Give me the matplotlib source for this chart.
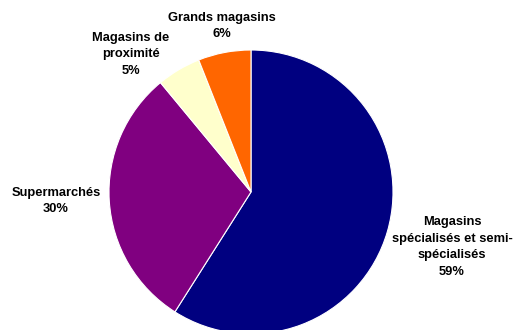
import matplotlib
matplotlib.use("Agg")
import matplotlib.pyplot as plt

labels = ["Magasins\nspécialisés et semi-\nspécialisés", "Supermarchés", "Magasins de\nproximité", "Grands magasins"]
values = [59, 30, 5, 6]
colors = ["#000080", "#800080", "#FFFFCC", "#FF6600"]
# label positions (pixel coords, y from top)
label_pos = [(452, 247), (56, 201), (131, 54), (222, 26)]

W, H = 519, 330
fig = plt.figure(figsize=(W/100, H/100), dpi=100)
ax = fig.add_axes([0, 0, 1, 1])

cx, cy, r = 251, 192, 142
ax.pie(values, colors=colors, startangle=90, counterclock=False,
       center=(cx, H - cy), radius=r, frame=True,
       wedgeprops=dict(edgecolor="white", linewidth=0.8))
ax.set_xlim(0, W)
ax.set_ylim(0, H)
ax.set_aspect("equal")
ax.axis("off")

for lab, v, (x, y) in zip(labels, values, label_pos):
    ax.text(x, H - y, f"{lab}\n{v}%", ha="center", va="center",
            fontsize=9.3, fontweight="bold", family="Liberation Sans",
            linespacing=1.5, color="black")

fig.savefig("out.png", dpi=100)
